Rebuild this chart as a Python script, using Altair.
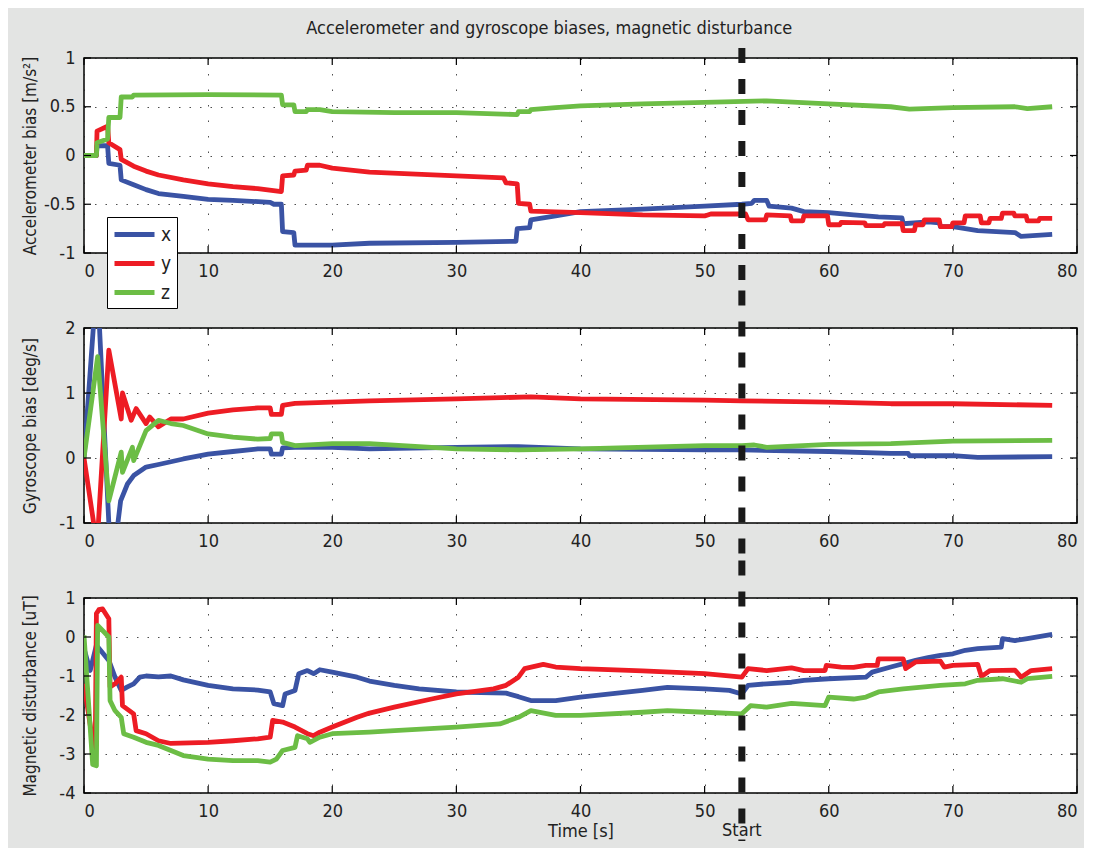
import altair as alt
import pandas as pd

# ---------------- data ----------------
series_names = ["x", "y", "z"]
series_colors = ["#3a53a4", "#ed1c24", "#6cbd45"]
x_ticks = [0, 10, 20, 30, 40, 50, 60, 70, 80]
start_time = [53]
start_label = ["Start"]

# Accelerometer bias [m/s^2]
acc_x_t = [0, 1.0, 1.05, 1.9, 2.0, 2.9, 3.0, 4, 5, 6, 8, 10, 12, 15, 15.3, 15.9, 16.0, 16.9, 17.0, 20, 23, 30,
           34.8, 34.9, 35.9, 36.0, 38, 40, 45, 50, 53, 53.8, 54.0, 55.0, 55.2, 57, 58, 60, 62, 64, 65.9, 66.0,
           68, 68.9, 69.0, 70, 71, 72, 75, 75.5, 78]
acc_x_v = [0, 0, 0.1, 0.1, -0.08, -0.1, -0.25, -0.3, -0.35, -0.39, -0.42, -0.45, -0.46, -0.48, -0.5, -0.5, -0.78,
           -0.79, -0.92, -0.92, -0.9, -0.89, -0.88, -0.75, -0.74, -0.66, -0.62, -0.575, -0.55, -0.52, -0.5, -0.49,
           -0.46, -0.46, -0.52, -0.54, -0.575, -0.585, -0.61, -0.63, -0.64, -0.7, -0.68, -0.69, -0.73, -0.73,
           -0.75, -0.77, -0.79, -0.83, -0.81]
acc_y_t = [0, 1.0, 1.05, 1.9, 2.0, 2.9, 3.0, 4, 5, 6, 8, 10, 12, 14, 15.9, 16.0, 16.9, 17.0, 17.9, 18.0, 19, 20,
           23, 30, 33.8, 34.0, 34.9, 35.0, 35.9, 36.0, 40, 45, 50, 50.5, 53.3, 53.5, 54.9, 55.0, 56.9, 57.0, 57.9,
           58.0, 59.9, 60.0, 60.9, 61.0, 62.9, 63.0, 64.4, 64.5, 65.9, 66.0, 66.9, 67.0, 67.6, 67.7, 68.9, 69.0,
           69.9, 70.0, 70.9, 71.0, 72.2, 72.3, 72.9, 73.0, 73.9, 74.0, 74.9, 75.0, 75.9, 76.0, 76.9, 77.0, 78]
acc_y_v = [0, 0, 0.25, 0.3, 0.13, 0.06, -0.04, -0.11, -0.16, -0.2, -0.25, -0.29, -0.32, -0.34, -0.37, -0.21, -0.2,
           -0.16, -0.15, -0.1, -0.1, -0.13, -0.17, -0.21, -0.23, -0.28, -0.29, -0.49, -0.5, -0.57, -0.585, -0.61,
           -0.62, -0.6, -0.6, -0.66, -0.66, -0.61, -0.62, -0.67, -0.67, -0.62, -0.62, -0.71, -0.71, -0.685, -0.69,
           -0.72, -0.72, -0.7, -0.7, -0.77, -0.77, -0.71, -0.71, -0.66, -0.66, -0.73, -0.73, -0.69, -0.69, -0.62,
           -0.62, -0.69, -0.69, -0.645, -0.645, -0.59, -0.59, -0.62, -0.62, -0.67, -0.67, -0.645, -0.645]
acc_z_t = [0, 1.0, 1.05, 1.9, 2.0, 2.9, 3.0, 3.9, 4.0, 10, 15.9, 16.0, 16.9, 17.0, 17.9, 18.0, 19, 20, 25, 30,
           34.9, 35.0, 35.9, 36.0, 38, 40, 45, 50, 55, 60, 65, 66.5, 70, 75, 76, 78]
acc_z_v = [0, 0, 0.13, 0.17, 0.39, 0.39, 0.6, 0.6, 0.62, 0.625, 0.62, 0.52, 0.52, 0.45, 0.45, 0.47, 0.47, 0.45,
           0.44, 0.44, 0.42, 0.45, 0.45, 0.47, 0.49, 0.51, 0.53, 0.545, 0.56, 0.53, 0.5, 0.475, 0.49, 0.5, 0.48,
           0.5]

# Gyroscope bias [deg/s]
gyr_x_t = [0, 1.05, 2.2, 2.7, 2.95, 3.5, 4, 5, 6, 8, 10, 12, 14, 15, 15.1, 15.9, 16.0, 17, 20, 23, 30, 35, 40,
           50, 53, 60, 65, 66.4, 66.5, 70, 72, 78]
gyr_x_v = [0, 2.8, -1.8, -1.05, -0.66, -0.4, -0.27, -0.14, -0.1, -0.015, 0.06, 0.1, 0.14, 0.14, 0.06, 0.06,
           0.155, 0.165, 0.165, 0.14, 0.165, 0.175, 0.14, 0.125, 0.125, 0.1, 0.07, 0.07, 0.035, 0.035, 0.01, 0.02]
gyr_y_t = [0, 1.05, 2.0, 3.0, 3.1, 3.8, 4.2, 5.0, 5.3, 6, 7, 8, 10, 12, 14, 15, 15.1, 15.9, 16.0, 17, 20, 23, 30,
           36, 40, 50, 53, 60, 65, 70, 78]
gyr_y_v = [0, -1.35, 1.66, 0.6, 1.0, 0.58, 0.76, 0.53, 0.63, 0.48, 0.6, 0.6, 0.69, 0.74, 0.77, 0.77, 0.67, 0.67,
           0.81, 0.84, 0.86, 0.88, 0.91, 0.94, 0.91, 0.89, 0.88, 0.86, 0.835, 0.835, 0.81]
gyr_z_t = [0, 1.1, 2.0, 3.0, 3.1, 3.9, 4.0, 5, 6, 7, 8, 10, 12, 14, 15, 15.1, 15.9, 16.0, 17, 20, 23, 30, 35, 40,
           50, 53, 54, 55, 60, 65, 70, 78]
gyr_z_v = [0, 1.56, -0.66, 0.09, -0.22, 0.165, -0.04, 0.42, 0.58, 0.53, 0.5, 0.37, 0.32, 0.29, 0.3, 0.37, 0.37,
           0.24, 0.19, 0.22, 0.22, 0.14, 0.125, 0.14, 0.19, 0.19, 0.2, 0.165, 0.21, 0.22, 0.26, 0.27]

# Magnetic disturbance [uT]
mag_x_t = [0, 0.5, 1.0, 2.0, 2.5, 3.0, 3.5, 4, 4.5, 5, 6, 7, 8, 10, 12, 14, 15, 15.3, 16, 16.2, 17, 17.3, 18,
           18.5, 19, 20, 22, 23, 25, 27, 30, 34, 35, 36, 38, 40, 45, 47, 50, 52, 53, 53.5, 55, 57, 58, 60, 63,
           63.5, 65, 67, 68, 69, 70, 71, 72, 73.9, 74, 75, 76, 78]
mag_x_v = [-0.3, -0.86, -0.21, -0.6, -1.03, -1.37, -1.28, -1.2, -1.03, -1.0, -1.02, -1.0, -1.1, -1.24, -1.33,
           -1.36, -1.41, -1.71, -1.76, -1.46, -1.37, -0.94, -0.86, -0.94, -0.84, -0.9, -1.03, -1.13, -1.24, -1.33,
           -1.41, -1.44, -1.53, -1.63, -1.63, -1.54, -1.37, -1.29, -1.33, -1.37, -1.46, -1.24, -1.2, -1.16, -1.11,
           -1.07, -1.03, -0.9, -0.77, -0.6, -0.53, -0.47, -0.43, -0.34, -0.3, -0.26, -0.04, -0.09, -0.04, 0.07]
mag_y_t = [0, 0.9, 1.0, 1.2, 1.5, 2.0, 2.1, 2.5, 3.0, 3.1, 4, 4.2, 5, 6, 7, 10, 12, 14, 15, 15.2, 16, 17, 18,
           18.5, 19, 20, 22, 23, 25, 28, 30, 33, 34, 35, 35.5, 37, 38, 40, 45, 50, 53, 53.5, 55, 57, 58, 59.7,
           59.8, 61, 62, 63, 63.9, 64, 66, 66.2, 67, 69, 69.3, 70, 72, 72.3, 73, 75, 75.5, 76.3, 78]
mag_y_v = [-1.2, -3.1, 0.6, 0.7, 0.72, 0.47, -1.28, -1.2, -1.03, -1.76, -1.97, -2.4, -2.48, -2.66, -2.73, -2.7,
           -2.66, -2.61, -2.57, -2.14, -2.18, -2.31, -2.48, -2.53, -2.44, -2.31, -2.06, -1.95, -1.8, -1.59, -1.46,
           -1.33, -1.24, -1.03, -0.81, -0.7, -0.77, -0.81, -0.87, -0.94, -1.03, -0.81, -0.86, -0.79, -0.86, -0.86,
           -0.73, -0.77, -0.78, -0.73, -0.73, -0.56, -0.56, -0.81, -0.64, -0.62, -0.77, -0.73, -0.7, -1.01, -0.86,
           -0.85, -1.03, -0.86, -0.81]
mag_z_t = [0, 0.7, 1.0, 1.1, 2.0, 2.1, 2.5, 3.0, 3.2, 4, 5, 6, 7, 8, 10, 12, 14, 15, 15.5, 16, 17, 17.2, 18,
           18.2, 19, 20, 23, 25, 30, 33.5, 35, 36, 38, 40, 45, 47, 50, 53, 53.7, 55, 57, 59.7, 60, 62, 63, 64,
           66, 69, 71, 72, 74, 75.5, 76, 78]
mag_z_v = [0.04, -3.27, -3.3, 0.3, 0.0, -1.63, -1.89, -2.06, -2.48, -2.57, -2.7, -2.78, -2.91, -3.04, -3.13,
           -3.17, -3.17, -3.21, -3.13, -2.91, -2.83, -2.53, -2.61, -2.7, -2.57, -2.48, -2.44, -2.4, -2.31, -2.23,
           -2.06, -1.89, -2.01, -2.01, -1.93, -1.89, -1.93, -1.97, -1.76, -1.8, -1.7, -1.76, -1.54, -1.59, -1.54,
           -1.41, -1.33, -1.24, -1.2, -1.11, -1.07, -1.16, -1.07, -1.01]

acc_ticks = [-1, -0.5, 0, 0.5, 1]
gyr_ticks = [-1, 0, 1, 2]
mag_ticks = [-4, -3, -2, -1, 0, 1]

title_text = "Accelerometer and gyroscope biases, magnetic disturbance"
acc_title = "Accelerometer bias [m/s²]"
gyr_title = "Gyroscope bias [deg/s]"
mag_title = "Magnetic disturbance [uT]"
time_title = "Time [s]"

# ---------------- chart ----------------
FONT = "Liberation Sans Narrow, DejaVu Sans Condensed, Arial Narrow, sans-serif"
W, H = 993, 195
GAP = 75


def frame(ts_vs):
    rows = []
    for name, ts, vs in ts_vs:
        for i, (t, v) in enumerate(zip(ts, vs)):
            rows.append({"series": name, "t": t, "v": v, "i": i})
    return pd.DataFrame(rows)


cscale = alt.Scale(domain=series_names, range=series_colors)
LABEL_EXPR = "replace(format(datum.value, '~g'), '\u2212', '-')"


def panel(df, ydom, yticks, ytitle, legend, xtitle, rule_top, rule_bot, with_start):
    x_enc = alt.X("t:Q", scale=alt.Scale(domain=[0, 80], nice=False, zero=False),
                  axis=alt.Axis(values=x_ticks, title=xtitle, grid=True, gridDash=[1.5, 14],
                                gridColor="#222", gridOpacity=0.8, ticks=False, domain=False,
                                labelPadding=9, titlePadding=2, titleFontSize=18))
    y_enc = alt.Y("v:Q", scale=alt.Scale(domain=ydom, nice=False, zero=False),
                  axis=alt.Axis(values=yticks, title=ytitle, grid=True, gridDash=[1.5, 9],
                                gridColor="#222", gridOpacity=0.8, ticks=False, domain=False,
                                labelPadding=9, titleX=-54, titleBaseline="middle",
                                labelExpr=LABEL_EXPR))
    color = alt.Color("series:N", scale=cscale, legend=legend)
    lines = alt.Chart(df).mark_line(strokeWidth=4.8, clip=True, strokeJoin="round").encode(
        x=x_enc, y=y_enc, color=color, order="i:Q")

    xt = pd.DataFrame({"t": x_ticks})
    yt = pd.DataFrame({"v": yticks})
    tick = dict(color="black", strokeWidth=1.2)
    xb = alt.Chart(xt).mark_rule(**tick).encode(x=x_enc, y=alt.value(H), y2=alt.value(H - 7))
    xtop = alt.Chart(xt).mark_rule(**tick).encode(x=x_enc, y=alt.value(0), y2=alt.value(7))
    yl = alt.Chart(yt).mark_rule(**tick).encode(y=y_enc, x=alt.value(0), x2=alt.value(7))
    yr = alt.Chart(yt).mark_rule(**tick).encode(y=y_enc, x=alt.value(W), x2=alt.value(W - 7))

    st = pd.DataFrame({"t": start_time, "label": start_label})
    rule = alt.Chart(st).mark_rule(color="#1a1a1a", strokeWidth=7, strokeDash=[15, 16]).encode(
        x=x_enc, y=alt.value(rule_top), y2=alt.value(rule_bot))
    layers = [lines, xb, xtop, yl, yr, rule]
    if with_start:
        txt = alt.Chart(st).mark_text(font=FONT, fontSize=18, color="#222", baseline="middle").encode(
            x=x_enc, y=alt.value(H + 38), text="label:N")
        layers.append(txt)
    return alt.layer(*layers).properties(width=W, height=H)


acc_df = frame([("x", acc_x_t, acc_x_v), ("y", acc_y_t, acc_y_v), ("z", acc_z_t, acc_z_v)])
gyr_df = frame([("x", gyr_x_t, gyr_x_v), ("y", gyr_y_t, gyr_y_v), ("z", gyr_z_t, gyr_z_v)])
mag_df = frame([("x", mag_x_t, mag_x_v), ("y", mag_y_t, mag_y_v), ("z", mag_z_t, mag_z_v)])

legend = alt.Legend(orient="none", legendX=23, legendY=159, title=None, fillColor="white",
                    strokeColor="black", padding=5, symbolType="M-1,0H3", symbolSize=400,
                    symbolStrokeWidth=5, labelFontSize=19, labelFont=FONT, labelColor="#222",
                    rowPadding=6, labelOffset=24)

p1 = panel(acc_df, [-1, 1], acc_ticks, acc_title, legend, None, -10, H + GAP / 2, False)
p2 = panel(gyr_df, [-1, 2], gyr_ticks, gyr_title, None, None, -GAP / 2, H + GAP / 2, False)
p3 = panel(mag_df, [-4, 1], mag_ticks, mag_title, None, time_title, -GAP / 2, H + 48, True)

chart = alt.vconcat(p1, p2, p3, spacing=GAP, bounds="flush").resolve_legend(
    color="independent"
).properties(
    title=alt.TitleParams(title_text, font=FONT, fontSize=18, fontWeight="normal", color="#222",
                          anchor="middle", offset=6),
    background="#e3e4e3",
    padding={"left": 12, "top": 11, "right": 5, "bottom": 2},
).configure_view(
    stroke="black", strokeWidth=1.5, fill="white"
).configure_axis(
    labelFont=FONT, titleFont=FONT, labelFontSize=18, titleFontSize=17,
    labelColor="#222", titleColor="#222", titleFontWeight="normal"
)

chart.save("out.html", embed_options={"renderer": "svg", "actions": False})
